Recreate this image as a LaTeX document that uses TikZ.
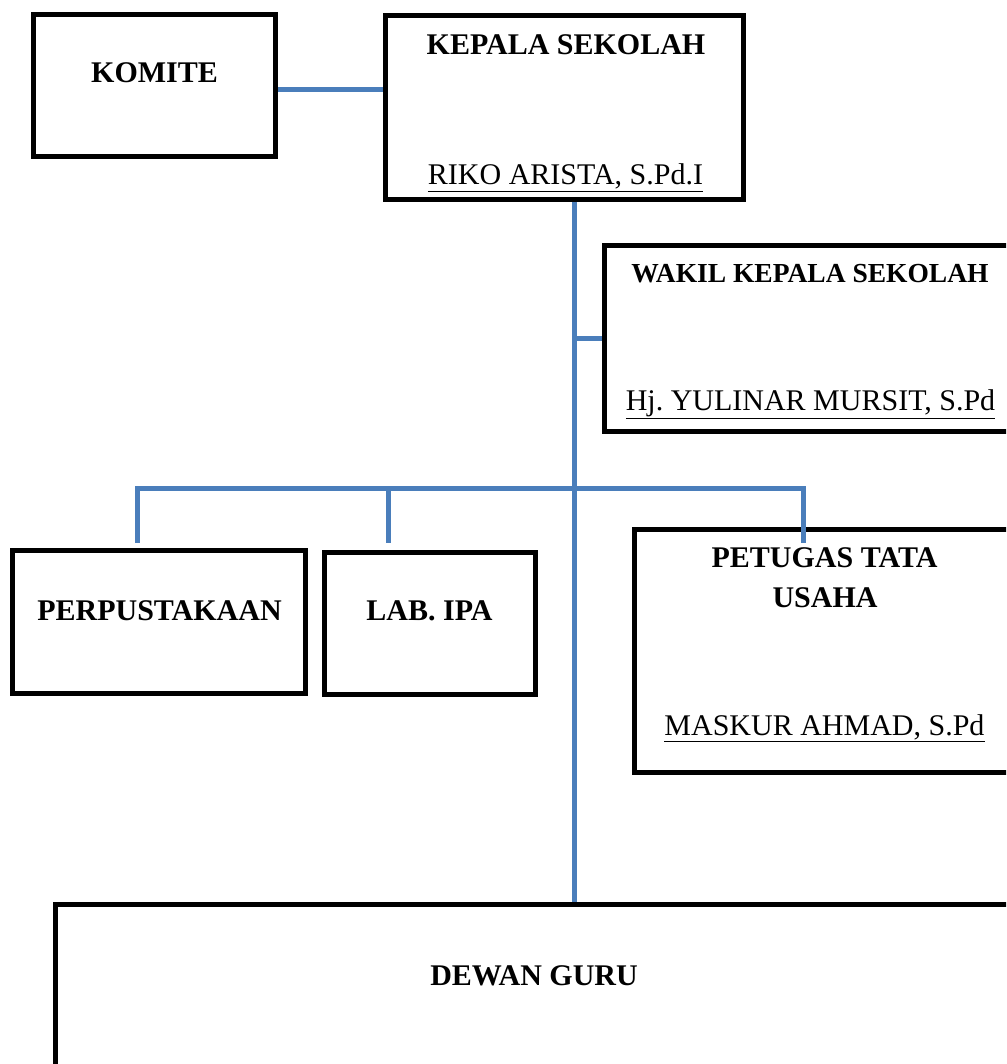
\documentclass[tikz,border=0pt]{standalone}
\usepackage{fontspec}
\setmainfont{Liberation Serif}
\frenchspacing
\definecolor{conn}{RGB}{74,126,187}
\begin{document}
\begin{tikzpicture}[x=1pt,y=-1pt,
  orgbox/.style={draw=black,line width=5pt,rectangle,inner sep=0pt},
  title/.style={font=\fontsize{30}{40}\selectfont\bfseries,anchor=base,inner sep=0pt},
  person/.style={font=\fontsize{30}{40}\selectfont\frenchspacing,anchor=base,inner sep=0pt},
  link/.style={draw=conn,line width=5pt}]
\useasboundingbox (0,0) rectangle (1006,1064);
\clip (0,0) rectangle (1006,1064);
% boxes
\node[orgbox,minimum width=242pt,minimum height=142pt] (komite) at (154.5,85.5) {};
\node[orgbox,minimum width=358pt,minimum height=184pt] (kepala) at (564.5,107.5) {};
\node[orgbox,minimum width=415.5pt,minimum height=186pt] (wakil) at (812.25,338.5) {};
\node[orgbox,minimum width=293pt,minimum height=143pt] (perpus) at (159,622) {};
\node[orgbox,minimum width=211pt,minimum height=142pt] (lab) at (430,623.5) {};
\node[orgbox,minimum width=385.5pt,minimum height=243pt] (tu) at (827.25,651) {};
\node[orgbox,minimum width=964.5pt,minimum height=175.5pt] (dewan) at (537.75,992.25) {};
% texts
\node[title] (tkomite) at (154.5,83) {KOMITE};
\node[title] (tkepala) at (566,55) {KEPALA SEKOLAH};
\node[person] (nkepala) at (565.5,185) {\underline{RIKO ARISTA, S.Pd.I}};
\node[title,font=\fontsize{27.5}{33}\selectfont\bfseries] (twakil) at (810,283) {WAKIL KEPALA SEKOLAH};
\node[person] (nwakil) at (810.5,410) {\underline{Hj. YULINAR MURSIT, S.Pd}};
\node[title] (tperpus) at (159.5,620) {PERPUSTAKAAN};
\node[title] (tlab) at (429.5,620) {LAB. IPA};
\node[title] (ttu1) at (824.5,567) {PETUGAS TATA};
\node[title] (ttu2) at (825,607) {USAHA};
\node[person] (ntu) at (824.5,735) {\underline{MASKUR AHMAD, S.Pd}};
\node[title] (tdewan) at (534,985) {DEWAN GURU};
% connector coordinates
\coordinate (kline) at (0,90);
\coordinate (trunk) at (574,0);
\coordinate (wline) at (0,338);
\coordinate (busL) at (137,488);
\coordinate (busM) at (388,488);
\coordinate (busR) at (803,488);
\coordinate (dropL) at (137,543);
\coordinate (dropM) at (388,543);
\coordinate (dropR) at (803,543);
% connectors
\draw[link] (komite.east |- kline) -- (kepala.west |- kline);
\draw[link] (kepala.south -| trunk) -- (dewan.north -| trunk);
\draw[link] (trunk |- wline) -- (wakil.west |- wline);
\draw[link,line cap=rect] (busL) -- (busR);
\draw[link] (busL) -- (dropL);
\draw[link] (busM) -- (dropM);
\draw[link] (busR) -- (dropR);
\end{tikzpicture}
\end{document}
